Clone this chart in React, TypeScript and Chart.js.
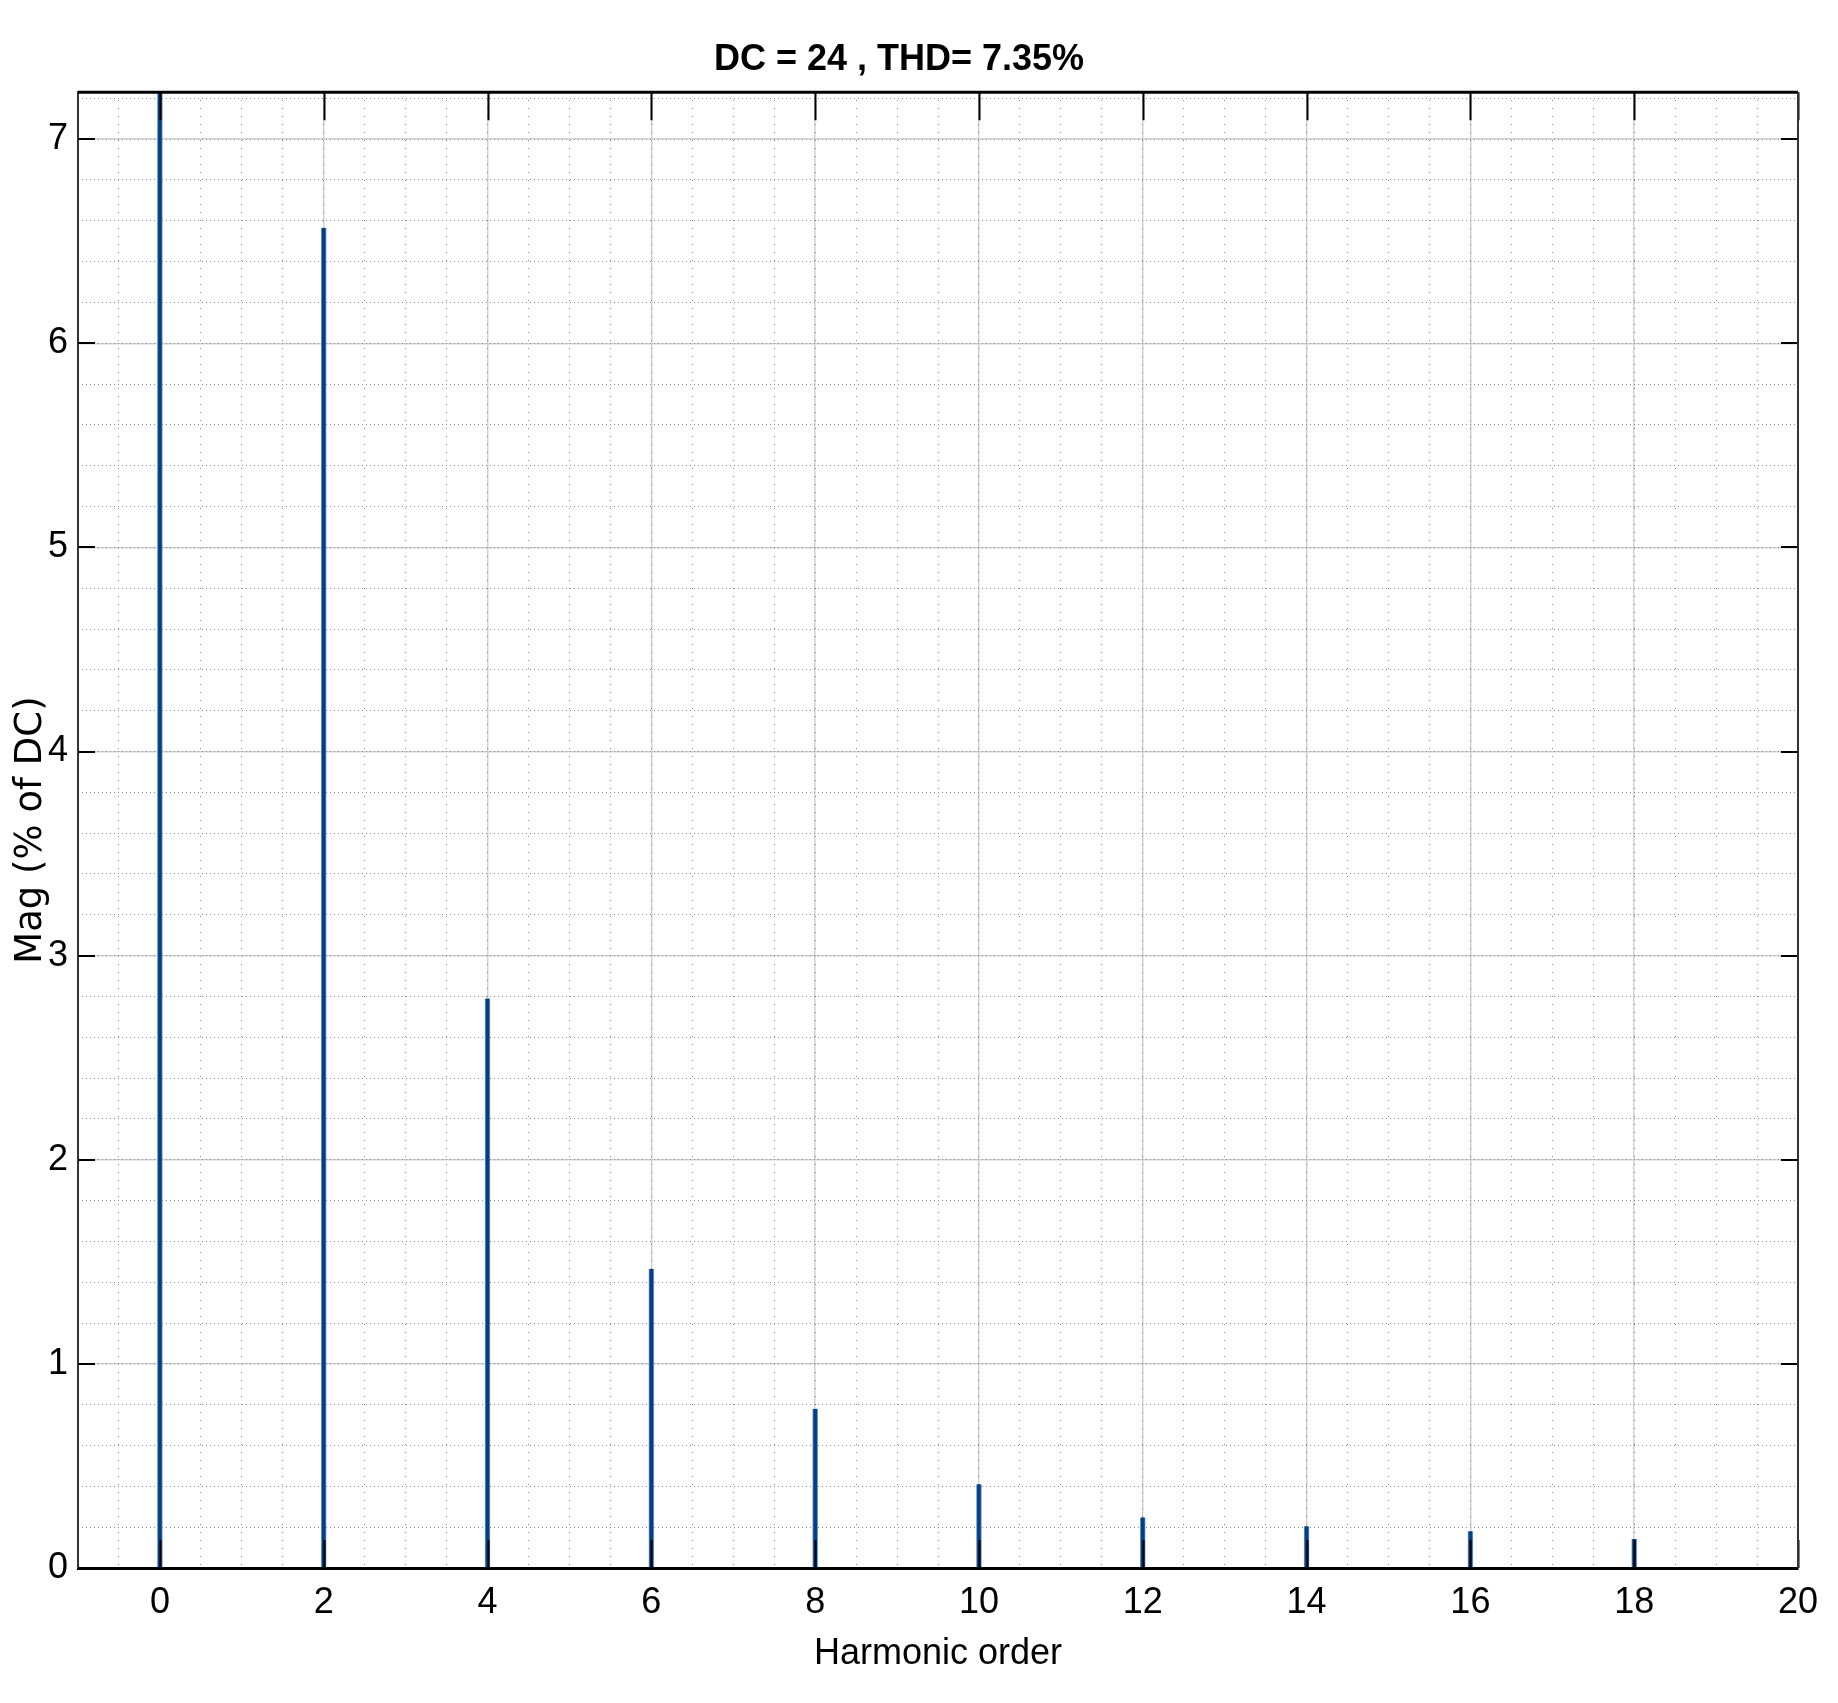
import React, { useEffect, useRef } from "react";
import { Chart, registerables } from "chart.js";

Chart.register(...registerables);

const harmonics = [0, 2, 4, 6, 8, 10, 12, 14, 16, 18];
const magnitudes = [7.23, 6.566, 2.79, 1.465, 0.78, 0.41, 0.248, 0.204, 0.18, 0.142];
const titleText = "DC = 24 , THD= 7.35%";
const xLabel = "Harmonic order";
const yLabel = "Mag (% of DC)";
const xMin = -1;
const xMax = 20;
const yMin = 0;
const yMax = 7.23;

const narrow = "'Liberation Sans Narrow', 'Arial Narrow', 'Liberation Sans', sans-serif";

const boxPlugin = {
  id: "matlabBox",
  afterDraw(chart: any) {
    const { ctx, chartArea } = chart;
    const { left, right, top, bottom } = chartArea;
    const xs = chart.scales.x;
    const ys = chart.scales.y;
    ctx.save();
    ctx.strokeStyle = "#000";
    ctx.lineWidth = 2;
    xs.ticks.forEach((t: any) => {
      const px = Math.round(xs.getPixelForValue(t.value)) + 0.5;
      ctx.beginPath();
      ctx.moveTo(px, bottom);
      ctx.lineTo(px, bottom - 28);
      ctx.moveTo(px, top);
      ctx.lineTo(px, top + 28);
      ctx.stroke();
    });
    ys.ticks.forEach((t: any) => {
      const py = Math.round(ys.getPixelForValue(t.value));
      ctx.beginPath();
      ctx.moveTo(left, py);
      ctx.lineTo(left + 17, py);
      ctx.moveTo(right, py);
      ctx.lineTo(right - 17, py);
      ctx.stroke();
    });
    ctx.lineWidth = 3;
    ctx.beginPath();
    ctx.moveTo(left, top);
    ctx.lineTo(right, top);
    ctx.stroke();
    ctx.strokeStyle = "#333";
    ctx.lineWidth = 2;
    ctx.beginPath();
    ctx.moveTo(right, top);
    ctx.lineTo(right, bottom);
    ctx.stroke();
    ctx.restore();
  },
};

export default function App() {
  const ref = useRef<HTMLCanvasElement>(null);
  useEffect(() => {
    document.body.style.margin = "0";
    const canvas = ref.current;
    if (!canvas) return;
    const chart = new Chart(canvas, {
      type: "bar",
      data: {
        datasets: [
          {
            data: harmonics.map((h, i) => ({ x: h, y: magnitudes[i] })),
            backgroundColor: "#0b3d7e",
            borderColor: "#5b9bd5",
            borderWidth: { left: 1, right: 1, top: 0, bottom: 0 },
            borderSkipped: false,
            barThickness: 5,
            grouped: false,
          } as any,
        ],
      },
      plugins: [boxPlugin],
      options: {
        animation: false,
        responsive: false,
        devicePixelRatio: 1,
        layout: { padding: { left: 0, right: 40, top: 0, bottom: 0 } },
        plugins: {
          legend: { display: false },
          tooltip: { enabled: false },
          title: {
            display: true,
            text: titleText,
            color: "#000",
            font: { family: narrow, size: 36, weight: "bold" },
            padding: { top: 38, bottom: 11 },
          },
        },
        scales: {
          x: {
            type: "linear",
            position: "bottom",
            min: xMin,
            max: xMax,
            offset: false,
            afterFit: (s: any) => {
              s.height = 135;
            },
            ticks: {
              stepSize: 2,
              includeBounds: false,
              color: "#000",
              font: { family: narrow, size: 36 },
              padding: 13,
              maxRotation: 0,
              autoSkip: false,
            },
            grid: { offset: false, color: "#d2d2d2", lineWidth: 1.5, drawTicks: false },
            border: { display: true, color: "#000", width: 3 },
            title: {
              display: true,
              text: xLabel,
              color: "#000",
              font: { family: narrow, size: 36 },
              padding: { top: 0, bottom: 27 },
            },
          },
          xMinor: {
            type: "linear",
            position: "top",
            min: xMin,
            max: xMax,
            offset: false,
            afterFit: (s: any) => {
              s.height = 0;
            },
            ticks: { display: false, stepSize: 0.5, includeBounds: false },
            grid: { offset: false, color: "#8c8c8c", lineWidth: 1, drawTicks: false },
            border: { display: false, dash: [1, 7] },
          },
          y: {
            type: "linear",
            position: "left",
            min: yMin,
            max: yMax,
            afterFit: (s: any) => {
              s.width = 78;
            },
            ticks: {
              stepSize: 1,
              includeBounds: false,
              color: "#000",
              font: { family: narrow, size: 36 },
              padding: 10,
            },
            grid: { offset: false, color: "#d2d2d2", lineWidth: 1.5, drawTicks: false },
            border: { display: true, color: "#333", width: 2 },
            title: {
              display: true,
              text: yLabel,
              color: "#000",
              font: { family: "'DejaVu Sans', 'Liberation Sans', sans-serif", size: 37 },
              padding: { top: 9, bottom: 0 },
            },
          },
          yMinor: {
            type: "linear",
            position: "right",
            min: yMin,
            max: yMax,
            afterFit: (s: any) => {
              s.width = 0;
            },
            ticks: { display: false, stepSize: 0.2, includeBounds: false },
            grid: { offset: false, color: "#8c8c8c", lineWidth: 1, drawTicks: false },
            border: { display: false, dash: [1, 3] },
          },
        },
      } as any,
    });
    return () => chart.destroy();
  }, []);
  return (
    <div style={{ width: 1838, height: 1703 }}>
      <canvas ref={ref} width={1838} height={1703} style={{ display: "block" }} />
    </div>
  );
}
